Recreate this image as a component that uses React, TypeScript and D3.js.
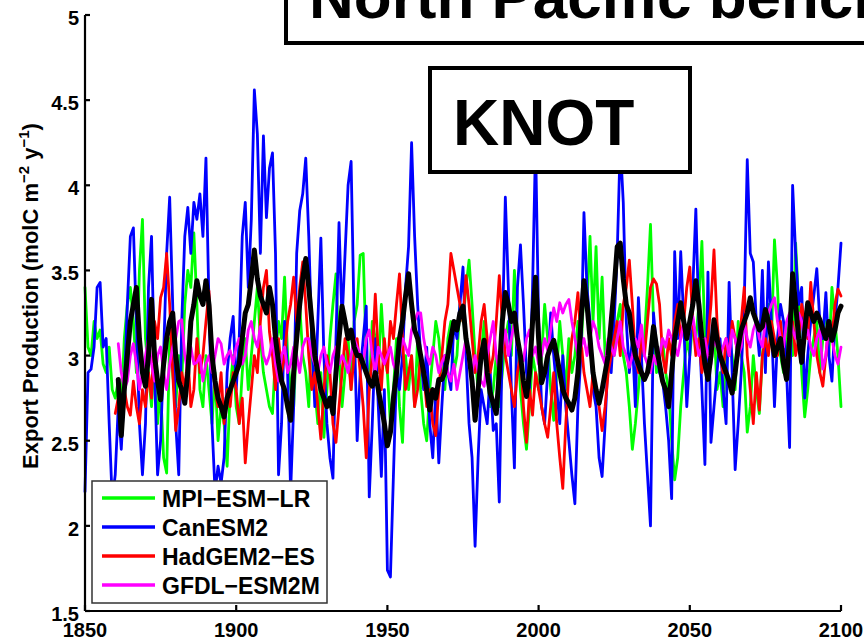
import React from 'react';
import * as d3 from 'd3';

const W = 864;
const H = 640;

const xTicks = [1850, 1900, 1950, 2000, 2050, 2100];
const yTicks = [1.5, 2, 2.5, 3, 3.5, 4, 4.5, 5];
const seriesNames = ['MPI-ESM-LR', 'CanESM2', 'HadGEM2-ES', 'GFDL-ESM2M'];
const seriesColors = ['#00ff00', '#0000ff', '#ff0000', '#ff00ff'];

// MPI-ESM-LR, 1850-2100
const mpiStart = 1850;
const mpi = [
  3.40, 3.05, 3.00, 3.20, 3.10, 3.15, 2.95, 2.90, 3.05, 2.80,
  2.75, 2.85, 2.70, 3.10, 3.30, 3.40, 3.20, 2.90, 3.50, 3.80,
  3.10, 2.90, 2.70, 3.00, 2.60, 2.80, 2.40, 2.31, 3.10, 2.90,
  2.70, 3.00, 2.85, 3.30, 3.50, 3.40, 3.72, 3.30, 2.80, 2.70,
  3.00, 2.80, 2.60, 2.90, 2.50, 2.70, 2.60, 2.35, 2.80, 3.00,
  2.70, 2.60, 2.90, 3.10, 2.80, 3.00, 3.20, 3.40, 3.10, 2.90,
  2.80, 2.70, 2.66, 3.00, 3.20, 3.10, 3.46, 3.00, 2.80, 2.70,
  3.10, 3.30, 3.00, 2.90, 2.70, 3.20, 2.80, 2.60, 2.90, 2.52,
  2.80, 3.10, 3.30, 3.48, 3.00, 2.70, 2.90, 3.10, 2.80, 3.20,
  3.30, 3.59, 3.60, 3.00, 2.80, 3.20, 3.10, 2.90, 3.30, 3.00,
  2.90, 2.60, 2.80, 3.10, 2.70, 2.49, 3.00, 2.80, 3.00, 2.70,
  3.10, 2.80, 2.60, 2.50, 2.80, 3.00, 3.20, 3.10, 2.90, 2.80,
  3.10, 3.20, 2.90, 3.00, 3.30, 3.20, 3.40, 3.56, 3.30, 3.00,
  2.80, 3.00, 3.20, 2.90, 2.70, 2.80, 3.00, 2.70, 2.90, 3.10,
  3.20, 3.00, 3.50, 3.10, 2.80, 2.60, 2.45, 2.70, 3.00, 2.90,
  2.80, 3.00, 3.30, 3.10, 2.80, 2.62, 2.90, 3.20, 3.00, 2.80,
  3.10, 2.90, 3.00, 3.20, 3.00, 3.40, 3.30, 3.70, 3.20, 3.64,
  3.10, 3.46, 3.00, 2.90, 3.10, 3.00, 3.20, 3.30, 3.00, 2.90,
  2.70, 2.45, 2.60, 2.80, 3.00, 3.10, 3.40, 3.77, 3.20, 2.90,
  3.00, 3.10, 2.90, 2.80, 2.50, 2.27, 2.40, 2.70, 2.90, 3.10,
  3.00, 3.20, 3.10, 3.30, 3.67, 3.10, 2.90, 3.00, 3.20, 2.80,
  2.90, 2.70, 3.00, 3.10, 3.00, 2.80, 3.20, 3.00, 2.90, 2.55,
  2.70, 3.00, 2.80, 2.66, 3.00, 3.20, 3.30, 3.10, 3.68, 3.40,
  3.00, 2.90, 3.10, 3.20, 3.00, 3.66, 3.30, 2.90, 2.64, 2.80,
  3.00, 3.10, 3.20, 2.90, 3.10, 3.30, 3.00, 3.40, 3.20, 3.00,
  2.70,
];

// CanESM2, 1850-2100
const canStart = 1850;
const can = [
  2.20, 2.90, 2.92, 3.05, 3.40, 3.43, 3.05, 3.10, 2.60, 2.15,
  2.30, 2.70, 2.45, 2.80, 3.30, 3.70, 3.75, 3.20, 2.60, 2.30,
  2.60, 3.40, 3.70, 2.90, 2.30, 2.50, 3.00, 3.60, 3.93, 3.30,
  2.60, 2.30, 3.20, 3.70, 3.87, 3.60, 3.90, 3.80, 3.95, 3.70,
  4.16, 3.30, 2.60, 2.20, 2.35, 2.25, 2.40, 2.90, 3.10, 3.23,
  2.80, 3.10, 3.70, 3.90, 3.40, 3.80, 4.56, 4.30, 3.60, 4.29,
  3.81, 4.10, 4.19, 3.60, 2.30, 2.60, 3.20, 2.90, 2.20, 2.70,
  3.60, 3.85, 3.95, 4.16, 3.70, 3.10, 2.70, 3.20, 3.69, 3.00,
  2.60, 2.40, 2.28, 3.10, 3.78, 3.20, 3.60, 4.00, 4.14, 3.20,
  2.50, 2.90, 3.10, 3.29, 2.17, 2.60, 3.10, 2.70, 2.29, 2.80,
  1.74, 1.70, 2.30, 2.90, 2.80, 3.00, 3.40, 3.64, 4.25, 3.70,
  3.30, 3.00, 2.80, 3.05, 2.60, 2.40, 2.80, 2.37, 2.70, 3.00,
  2.90, 2.80, 3.20, 3.10, 3.30, 3.52, 3.00, 2.60, 2.40, 1.88,
  2.40, 2.80, 2.70, 2.60, 2.90, 2.56, 2.60, 2.14, 3.10, 3.93,
  3.40, 2.80, 2.34, 3.40, 3.65, 3.30, 2.90, 2.80, 3.40, 4.25,
  3.20, 2.70, 2.60, 2.90, 3.25, 3.00, 2.80, 2.60, 3.00, 2.70,
  2.50, 2.30, 2.13, 2.70, 3.00, 3.84, 3.40, 3.20, 2.80, 2.70,
  2.40, 2.29, 2.60, 3.00, 2.90, 3.20, 3.60, 4.25, 3.90, 3.20,
  2.90, 3.10, 2.70, 3.34, 3.00, 2.60, 2.30, 2.00, 3.25, 3.05,
  2.90, 2.85, 2.70, 2.50, 2.16, 3.61, 3.10, 3.61, 3.20, 2.70,
  3.00, 3.40, 3.86, 3.20, 2.80, 2.36, 3.49, 2.49, 2.70, 2.90,
  3.10, 2.80, 2.60, 3.43, 2.90, 2.33, 2.60, 2.90, 3.30, 4.15,
  3.60, 3.55, 3.20, 3.00, 3.50, 2.90, 3.55, 3.20, 2.70, 3.10,
  3.30, 3.20, 2.90, 2.46, 4.00, 3.60, 3.30, 3.40, 2.75, 3.00,
  3.20, 3.35, 3.51, 3.20, 3.10, 3.37, 3.00, 2.85, 3.20, 3.40,
  3.66,
];

// HadGEM2-ES, 1860-2100
const hadStart = 1860;
const had = [
  2.66, 2.75, 2.60, 2.80, 2.70, 2.65, 2.85, 2.70, 2.60, 2.80,
  2.70, 2.90, 2.75, 3.20, 3.10, 3.34, 3.40, 3.60, 3.30, 2.90,
  2.56, 2.70, 2.90, 2.80, 3.00, 2.70, 2.80, 3.10, 2.90, 3.00,
  3.20, 3.38, 3.00, 2.80, 2.70, 2.90, 2.60, 2.80, 2.70, 2.90,
  2.80, 2.60, 2.75, 2.37, 2.60, 2.80, 3.00, 2.90, 3.20, 3.40,
  3.50, 3.14, 3.00, 2.80, 3.10, 2.90, 3.00, 3.20, 3.30, 3.46,
  3.20, 3.40, 3.55, 3.30, 3.00, 2.80, 2.90, 2.70, 2.51, 2.80,
  3.00, 2.90, 2.60, 2.49, 2.70, 2.90, 3.10, 3.00, 2.80, 3.00,
  3.10, 2.90, 2.70, 2.40, 2.80, 3.00, 3.36, 3.00, 2.80, 3.10,
  2.90, 3.20, 3.10, 3.30, 3.48, 3.10, 2.80, 2.90, 3.00, 2.70,
  2.80, 3.00, 2.90, 2.70, 2.80, 2.60, 2.53, 2.80, 3.00, 3.20,
  3.30, 3.60, 3.50, 3.40, 3.30, 3.20, 3.47, 3.30, 3.10, 2.90,
  3.00, 3.20, 3.30, 3.10, 2.90, 3.00, 3.20, 3.47, 3.20, 3.00,
  2.90, 2.80, 2.70, 2.90, 3.00, 2.70, 2.49, 2.80, 2.65, 2.90,
  2.80, 2.70, 2.60, 2.52, 2.70, 2.90, 2.60, 2.40, 2.22, 2.60,
  2.90, 3.10, 3.20, 3.37, 3.10, 2.90, 2.80, 2.70, 2.90, 2.80,
  2.70, 2.56, 2.70, 2.90, 3.00, 3.10, 3.20, 3.00, 3.30, 3.40,
  3.56, 3.30, 3.00, 2.90, 3.10, 3.00, 3.20, 3.40, 3.45, 3.42,
  3.30, 3.00, 2.90, 3.10, 3.00, 3.20, 3.30, 3.10, 3.20, 3.40,
  3.52, 3.20, 3.00, 3.10, 2.90, 3.00, 3.10, 3.30, 3.62, 3.20,
  3.00, 2.90, 3.10, 3.00, 3.20, 3.10, 3.00, 3.20, 3.40, 3.00,
  2.80, 2.60, 2.90, 2.68, 3.00, 3.10, 3.00, 3.20, 3.10, 3.00,
  3.20, 3.00, 2.90, 3.10, 3.20, 3.00, 3.10, 3.30, 3.20, 3.10,
  3.43, 3.20, 3.00, 2.90, 2.82, 3.00, 3.20, 3.10, 3.30, 3.39,
  3.35,
];

// GFDL-ESM2M, 1861-2100
const gfdlStart = 1861;
const gfdl = [
  3.07, 2.90, 2.80, 2.85, 3.00, 3.07, 2.95, 2.80, 2.90, 3.00,
  3.10, 2.95, 2.85, 3.00, 3.05, 2.90, 2.80, 2.95, 3.05, 3.10,
  3.20, 3.21, 3.00, 2.90, 3.05, 2.95, 2.96, 3.00, 2.85, 2.95,
  3.00, 2.90, 3.00, 3.10, 3.07, 2.95, 3.00, 3.03, 2.95, 3.05,
  3.10, 2.95, 3.00, 3.15, 3.20, 3.10, 3.05, 3.17, 3.00, 2.95,
  3.00, 3.10, 2.95, 2.85, 3.00, 3.05, 2.90, 2.95, 3.05, 3.00,
  2.90, 3.05, 3.10, 3.10, 3.00, 2.95, 2.90, 3.00, 3.05, 2.95,
  2.90, 3.00, 3.05, 2.95, 3.00, 2.96, 2.90, 3.00, 3.10, 3.05,
  3.00, 2.95, 3.10, 3.15, 3.00, 2.90, 3.05, 3.00, 2.95, 3.00,
  3.05, 2.95, 2.90, 3.00, 3.10, 3.05, 3.00, 3.15, 3.20, 3.25,
  3.25, 3.10, 3.00, 2.95, 3.05, 3.00, 2.90, 2.96, 3.00, 2.90,
  2.85, 2.95, 2.80, 2.90, 3.00, 3.10, 2.95, 2.90, 3.00, 2.90,
  2.85, 2.82, 3.00, 3.10, 3.20, 3.00, 2.90, 3.05, 3.15, 3.00,
  3.10, 3.20, 3.05, 3.00, 2.97, 3.10, 3.15, 3.00, 3.05, 2.95,
  3.00, 3.10, 3.03, 3.15, 3.28, 3.20, 3.31, 3.25, 3.30, 3.33,
  3.20, 3.10, 3.00, 3.05, 3.10, 3.00, 3.10, 3.20, 3.15, 3.05,
  3.00, 2.95, 3.10, 3.05, 3.00, 3.10, 3.20, 3.05, 3.00, 2.93,
  3.00, 3.10, 3.05, 3.18, 3.00, 2.95, 2.90, 3.00, 2.95, 3.00,
  3.10, 3.05, 3.15, 3.10, 3.05, 3.00, 3.10, 3.20, 3.10, 3.15,
  3.23, 3.10, 3.00, 3.05, 3.10, 3.00, 2.95, 3.10, 3.05, 3.00,
  3.05, 3.10, 3.00, 3.15, 3.10, 3.00, 3.05, 3.20, 3.10, 3.05,
  3.15, 3.20, 3.10, 3.05, 3.20, 3.25, 3.30, 3.34, 3.20, 3.10,
  3.05, 3.20, 3.25, 3.15, 3.10, 3.25, 3.20, 3.10, 3.15, 3.05,
  3.00, 3.10, 3.15, 2.92, 3.00, 3.20, 3.10, 3.00, 2.95, 3.05,
];

// Multi-model mean (black), 1861-2100
const meanStart = 1861;
const meanSeries = [
  2.86, 2.53, 2.80, 3.00, 3.20, 3.30, 3.40, 3.10, 2.90, 2.82,
  3.00, 3.33, 3.00, 2.85, 2.74, 2.95, 3.10, 3.20, 3.25, 3.00,
  2.85, 2.80, 2.72, 2.90, 3.20, 3.30, 3.44, 3.35, 3.30, 3.44,
  3.30, 3.00, 2.85, 2.75, 2.70, 2.64, 2.75, 2.80, 2.85, 2.90,
  2.95, 3.10, 3.25, 3.30, 3.45, 3.62, 3.45, 3.35, 3.30, 3.25,
  3.40, 3.30, 3.10, 2.96, 2.85, 2.80, 2.70, 2.62, 2.90, 3.10,
  3.30, 3.45, 3.57, 3.40, 3.20, 3.00, 2.90, 2.80, 2.75, 2.70,
  2.75, 2.66, 2.90, 3.10, 3.29, 3.20, 3.10, 3.15, 3.05, 3.00,
  3.00, 2.95, 2.90, 2.85, 2.82, 2.90, 2.80, 2.70, 2.60, 2.47,
  2.55, 2.75, 2.90, 3.10, 3.20, 3.35, 3.48, 3.30, 3.15, 3.10,
  3.00, 2.90, 2.80, 2.68, 2.80, 2.75, 2.86, 2.86, 2.90, 3.00,
  3.10, 3.20, 3.15, 3.25, 3.29, 3.10, 3.00, 2.85, 2.62, 2.80,
  3.00, 3.09, 2.90, 2.78, 2.72, 2.66, 2.90, 3.20, 3.37, 3.30,
  3.20, 3.25, 3.10, 3.00, 2.85, 2.76, 2.90, 3.20, 3.46, 3.10,
  2.84, 2.90, 3.00, 3.05, 3.09, 3.00, 2.90, 2.80, 2.75, 2.72,
  2.68, 2.75, 2.90, 3.20, 3.44, 3.30, 3.10, 2.90, 2.80, 2.72,
  2.80, 2.90, 3.00, 3.20, 3.40, 3.64, 3.66, 3.45, 3.30, 3.25,
  3.10, 3.00, 2.95, 2.90, 2.86, 2.90, 3.00, 3.17, 3.05, 2.95,
  2.85, 2.80, 2.70, 2.90, 3.10, 3.20, 3.31, 3.20, 3.10, 3.20,
  3.30, 3.44, 3.30, 3.10, 2.95, 2.86, 3.00, 3.21, 3.10, 3.00,
  2.95, 2.90, 2.85, 2.78, 2.90, 3.05, 3.15, 3.20, 3.25, 3.34,
  3.25, 3.20, 3.15, 3.17, 3.27, 3.20, 3.10, 3.00, 3.05, 3.10,
  2.95, 2.86, 3.10, 3.48, 3.30, 3.10, 2.96, 3.15, 3.31, 3.25,
  3.20, 3.25, 3.21, 3.15, 3.10, 3.20, 3.09, 3.15, 3.25, 3.29,
];

const FONT = '"Liberation Sans", Arial, Helvetica, sans-serif';

export default function App() {
  const x = d3.scaleLinear().domain([1850, 2100]).range([85, 841]);
  const y = d3.scaleLinear().domain([1.5, 5]).range([611, 15]);

  const mk = (start: number, vals: number[]) =>
    d3
      .line<number>()
      .x((_, i) => x(start + i))
      .y((d) => y(d))(vals) || '';

  const colored = [
    { d: mk(mpiStart, mpi), c: seriesColors[0] },
    { d: mk(canStart, can), c: seriesColors[1] },
    { d: mk(hadStart, had), c: seriesColors[2] },
    { d: mk(gfdlStart, gfdl), c: seriesColors[3] },
  ];
  const meanPath = mk(meanStart, meanSeries);

  const legendX = 92;
  const legendY = 481;
  const legendW = 235;
  const legendH = 122;

  return (
    <svg
      width={W}
      height={H}
      viewBox={`0 0 ${W} ${H}`}
      style={{ position: 'absolute', left: 0, top: 0, background: '#fff' }}
      fontFamily={FONT}
      fontWeight="bold"
    >
      <rect x={0} y={0} width={W} height={H} fill="#fff" />
      {/* series */}
      <g fill="none" strokeLinejoin="round" strokeLinecap="round">
        {colored.map((s, i) => (
          <path key={i} d={s.d} stroke={s.c} strokeWidth={2.8} />
        ))}
        <path d={meanPath} stroke="#000" strokeWidth={5} />
      </g>

      {/* axes */}
      <g stroke="#000" strokeWidth={2.2}>
        <line x1={x(1850)} x2={x(1850)} y1={y(5)} y2={y(1.5)} />
        <line x1={x(1850)} x2={x(2100)} y1={y(1.5)} y2={y(1.5)} />
        {yTicks.map((t) => (
          <line key={'yt' + t} x1={x(1850)} x2={x(1850) + 5} y1={y(t)} y2={y(t)} />
        ))}
        {xTicks.map((t) => (
          <line key={'xt' + t} x1={x(t)} x2={x(t)} y1={y(1.5)} y2={y(1.5) - 6} />
        ))}
      </g>
      <g fontSize={20} fill="#000">
        {yTicks.map((t) => (
          <text key={'yl' + t} x={x(1850) - 6} y={y(t) + 10} textAnchor="end">
            {String(t)}
          </text>
        ))}
        {xTicks.map((t) => (
          <text key={'xl' + t} x={x(t)} y={637} textAnchor="middle">
            {String(t)}
          </text>
        ))}
      </g>

      {/* y axis label */}
      <text
        transform={`translate(38, 296) rotate(-90)`}
        textAnchor="middle"
        fontSize={22}
        fill="#000"
      >
        <tspan>Export Production (molC m</tspan>
        <tspan fontSize={15} dy={-9}>−2</tspan>
        <tspan dy={9}> y</tspan>
        <tspan fontSize={15} dy={-9}>−1</tspan>
        <tspan dy={9}>)</tspan>
      </text>

      {/* legend */}
      <rect
        x={legendX}
        y={legendY}
        width={legendW}
        height={legendH}
        fill="#fff"
        stroke="#333"
        strokeWidth={1.5}
      />
      {seriesNames.map((n, i) => (
        <g key={n}>
          <line
            x1={102}
            x2={155}
            y1={498 + i * 29}
            y2={498 + i * 29}
            stroke={seriesColors[i]}
            strokeWidth={3.5}
          />
          <text x={162} y={507 + i * 29} fontSize={23} fill="#000">
            {n.replace(/-/g, '−')}
          </text>
        </g>
      ))}

      {/* title box */}
      <rect x={286} y={-20} width={620} height={63} fill="#fff" stroke="#000" strokeWidth={4} />
      <text x={309} y={18} fontSize={62} fill="#000">
        North Pacific benchmark
      </text>

      {/* KNOT box */}
      <rect x={430} y={68} width={260} height={104} fill="#fff" stroke="#000" strokeWidth={4} />
      <text x={453} y={145} fontSize={64} fill="#000">
        KNOT
      </text>
    </svg>
  );
}
